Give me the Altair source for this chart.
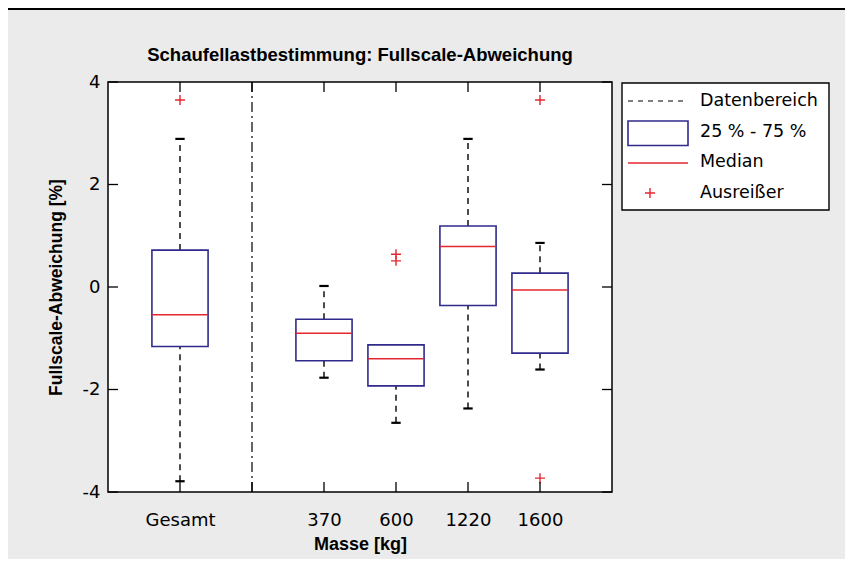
import altair as alt
import pandas as pd

# ---------------- data ----------------
groups = ["Gesamt", "370", "600", "1220", "1600"]
positions = [1, 3, 4, 5, 6]
lower = [-3.79, -1.77, -2.65, -2.37, -1.61]
q1 = [-1.16, -1.44, -1.93, -0.36, -1.29]
median = [-0.54, -0.90, -1.40, 0.79, -0.06]
q3 = [0.72, -0.63, -1.13, 1.19, 0.27]
upper = [2.89, 0.02, -1.13, 2.89, 0.86]

outlier_group = ["Gesamt", "600", "600", "1600", "1600"]
outlier_value = [3.65, 0.64, 0.51, 3.65, -3.73]

x_tick_positions = [1, 2, 3, 4, 5, 6]
y_tick_values = [-4, -2, 0, 2, 4]
separator_position = [2]

legend_labels = ["Datenbereich", "25 % - 75 %", "Median", "Ausreißer"]
title_text = "Schaufellastbestimmung: Fullscale-Abweichung"

# ---------------- styles ----------------
BOX_HALF = 0.39
CAP_HALF = 0.065
BLUE = "#2f2a8c"
RED = "#e42630"
BG = "#ebebeb"
FONT = "DejaVu Sans"
BOLD_FONT = "Liberation Sans"
W, H = 504, 410

box_df = pd.DataFrame({
    "group": groups, "pos": positions, "lower": lower, "q1": q1,
    "median": median, "q3": q3, "upper": upper,
})
pos_of = dict(zip(groups, positions))
out_df = pd.DataFrame({
    "group": outlier_group,
    "pos": [pos_of[g] for g in outlier_group],
    "value": outlier_value,
})
xt_df = pd.DataFrame({"t": x_tick_positions})
yt_df = pd.DataFrame({"v": y_tick_values})
sep_df = pd.DataFrame({"s": separator_position})
leg_df = pd.DataFrame({"label": legend_labels, "i": list(range(len(legend_labels)))})

# label expression for x axis
expr = "''"
for p, g in reversed(list(zip(positions, groups))):
    expr = f"datum.value == {p} ? '{g}' : ({expr})"

xs = alt.Scale(domain=[0, 7], nice=False, zero=False)
ys = alt.Scale(domain=[-4, 4], nice=False, zero=False)
xaxis = alt.Axis(values=positions, labelExpr=expr, labelPadding=19,
                 titlePadding=6, labelFlush=False, titleFontSize=18)
yaxis = alt.Axis(values=y_tick_values,
                 labelExpr="datum.value < 0 ? '-' + abs(datum.value) : '' + datum.value",
                 labelPadding=8, titlePadding=17, titleFontSize=17.5)


def X(f):
    return alt.X(f, type="quantitative", scale=xs, axis=xaxis, title="Masse [kg]")


def Y(f):
    return alt.Y(f, type="quantitative", scale=ys, axis=yaxis, title="Fullscale-Abweichung [%]")


base = alt.Chart(box_df).transform_calculate(
    bl=f"datum.pos - {BOX_HALF}", br=f"datum.pos + {BOX_HALF}",
    cl=f"datum.pos - {CAP_HALF}", cr=f"datum.pos + {CAP_HALF}",
)

separator = alt.Chart(sep_df).mark_rule(color="black", strokeWidth=1.2,
                                        strokeDash=[10, 4, 2, 4]).encode(
    x=X("s"), y=alt.value(0), y2=alt.value(H))

ticks_bottom = alt.Chart(xt_df).mark_rule(color="black", strokeWidth=1.3).encode(
    x=X("t"), y=alt.value(H), y2=alt.value(H - 10))
ticks_top = alt.Chart(xt_df).mark_rule(color="black", strokeWidth=1.3).encode(
    x=X("t"), y=alt.value(0), y2=alt.value(10))
ticks_left = alt.Chart(yt_df).mark_rule(color="black", strokeWidth=1.3).encode(
    y=Y("v"), x=alt.value(0), x2=alt.value(10))
ticks_right = alt.Chart(yt_df).mark_rule(color="black", strokeWidth=1.3).encode(
    y=Y("v"), x=alt.value(W), x2=alt.value(W - 10))

whisk_up = base.mark_rule(color="black", strokeWidth=1.4, strokeDash=[6, 5]).encode(
    x=X("pos"), y=Y("q3"), y2=alt.Y2("upper"))
whisk_lo = base.mark_rule(color="black", strokeWidth=1.4, strokeDash=[6, 5]).encode(
    x=X("pos"), y=Y("lower"), y2=alt.Y2("q1"))
cap_up = base.transform_filter("datum.upper > datum.q3").mark_rule(
    color="black", strokeWidth=2.2).encode(x=X("cl"), x2=alt.X2("cr"), y=Y("upper"))
cap_lo = base.transform_filter("datum.lower < datum.q1").mark_rule(
    color="black", strokeWidth=2.2).encode(x=X("cl"), x2=alt.X2("cr"), y=Y("lower"))
boxes = base.mark_rect(fill="white", stroke=BLUE, strokeWidth=1.6).encode(
    x=X("bl"), x2=alt.X2("br"), y=Y("q1"), y2=alt.Y2("q3"))
medians = base.mark_rule(color=RED, strokeWidth=1.5).encode(
    x=X("bl"), x2=alt.X2("br"), y=Y("median"))

PLUS = "M-1,0L1,0M0,-1L0,1"
outliers = alt.Chart(out_df).mark_point(shape=PLUS, filled=False, stroke=RED,
                                        strokeWidth=1.4, size=100, opacity=1).encode(
    x=X("pos"), y=Y("value"))

# ---------------- legend / title / frame line ----------------
one = alt.Data(values=[{"k": 1}])
LX0, LX1 = 514, 721
leg_box = alt.Chart(one).mark_rect(fill="white", stroke="black", strokeWidth=1.4).encode(
    x=alt.value(LX0), x2=alt.value(LX1), y=alt.value(1), y2=alt.value(128))
leg_dash = alt.Chart(one).mark_rule(color="black", strokeWidth=1.2, strokeDash=[5, 5]).encode(
    x=alt.value(520), x2=alt.value(580), y=alt.value(19))
leg_rect = alt.Chart(one).mark_rect(fill="white", stroke=BLUE, strokeWidth=1.6).encode(
    x=alt.value(520), x2=alt.value(580), y=alt.value(39), y2=alt.value(63.5))
leg_med = alt.Chart(one).mark_rule(color=RED, strokeWidth=1.5).encode(
    x=alt.value(520), x2=alt.value(580), y=alt.value(81))
leg_plus = alt.Chart(one).mark_point(shape=PLUS, filled=False, stroke=RED,
                                     strokeWidth=1.4, size=100, opacity=1).encode(
    x=alt.value(542), y=alt.value(111))
leg_text = alt.Chart(leg_df).transform_calculate(
    ly="19 + datum.i * 30.7").mark_text(
    align="left", baseline="middle", font=FONT, fontSize=17.5, color="black").encode(
    x=alt.value(592), y=alt.Y("ly:Q", scale=None, axis=None), text="label:N")

title_mark = alt.Chart(alt.Data(values=[{"t": title_text}])).mark_text(
    align="center", baseline="middle", font=BOLD_FONT, fontSize=18.5,
    fontWeight="bold", color="black").encode(
    x=alt.value(W / 2), y=alt.value(-27), text="t:N")

top_line = alt.Chart(one).mark_rule(color="black", strokeWidth=2.2).encode(
    x=alt.value(-100), x2=alt.value(740), y=alt.value(-73))

chart = alt.layer(
    separator, whisk_up, whisk_lo, cap_up, cap_lo, boxes, medians, outliers,
    ticks_bottom, ticks_top, ticks_left, ticks_right,
    leg_box, leg_dash, leg_rect, leg_med, leg_plus, leg_text, title_mark, top_line,
).properties(
    width=W, height=H,
    autosize=alt.AutoSizeParams(type="none"),
    padding={"left": 100, "top": 74, "right": 233, "bottom": 67},
    background=BG,
).configure_view(
    stroke="black", strokeWidth=1.5, fill="white"
).configure_axis(
    grid=False, domain=False, ticks=False,
    labelFont=FONT, labelFontSize=18, labelColor="black",
    titleFont=BOLD_FONT, titleFontWeight="bold", titleColor="black",
)

chart.save("out.html", embed_options={"renderer": "svg", "actions": False})
